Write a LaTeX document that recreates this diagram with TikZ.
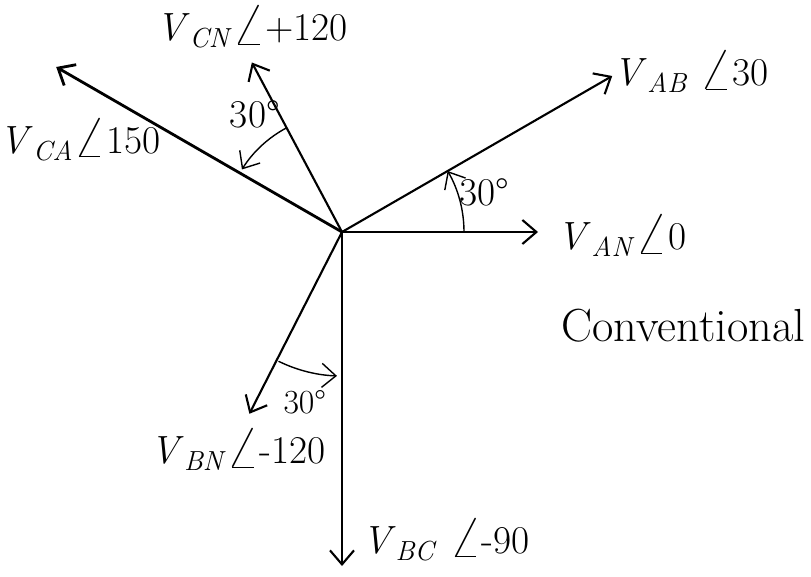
\documentclass[tikz,border=0pt]{standalone}
\usepackage{fontspec}
\usepackage{graphicx}
\newcommand\goc{\raisebox{-0.1em}{\scalebox{1.45}{$\angle$}}}
\newcommand\vt[1]{\textit{V}\textsubscript{\textit{#1}}}
\usetikzlibrary{arrows.meta}
\tikzset{
	vecto/.style={line width=1.5pt,->},
	cung/.style={line width=1pt,->},
	nhan/.style={font=\fontsize{28}{32}\selectfont,inner sep=0pt},
}
\begin{document}
\begin{tikzpicture}[line join=round,line cap=round,>={Straight Barb[length=3.5mm,width=6mm]}]
	% Khung hinh
	\useasboundingbox (-8.55,-8.6) rectangle (11.725,5.8);
	% Goc va cac dau vecto
	\path
	(0,0) coordinate (O)
	(0:4.9) coordinate (AN)
	(30:7.8) coordinate (AB)
	(118:4.8) coordinate (CN)
	(150:8.25) coordinate (CA)
	(-117:5.1) coordinate (BN)
	(-90:8.35) coordinate (BC);
	\foreach \t in {AN,AB,CN,BN,BC}{
		\draw[vecto] (O) -- (\t);
	}
	\draw[vecto,line width=2pt] (O) -- (CA);
	% Nhan cac vecto
	\node[nhan] (lAN) at (7.0,-0.1) {\vt{AN}\goc 0};
	\node[nhan] (lAB) at (8.73,4.0) {\vt{AB} \goc 30};
	\node[nhan] (lCN) at (-2.25,5.12) {\vt{CN}\goc+120};
	\node[nhan] (lCA) at (-6.55,2.3) {\vt{CA}\goc 150};
	\node[nhan] (lBN) at (-2.6,-5.45) {\vt{BN}\goc-120};
	\node[nhan] (lBC) at (2.6,-7.7) {\vt{BC} \goc-90};
	\node[nhan,font=\fontsize{33}{36}\selectfont] (conv) at (8.53,-2.33) {Conventional};
	% Cac goc 30 do
	\draw[cung] (0:3.05) arc (0:30:3.05);
	\draw[cung] (118:2.95) arc (118:148:2.95);
	\draw[cung] (-116:3.6) arc (-116:-92:3.6);
	\node[nhan,font=\fontsize{28}{32}\selectfont] (g1) at (3.55,1.0) {30°};
	\node[nhan,font=\fontsize{28}{32}\selectfont] (g2) at (-2.18,2.93) {30°};
	\node[nhan,font=\fontsize{24}{28}\selectfont] (g3) at (-0.93,-4.25) {30°};
\end{tikzpicture}
\end{document}
